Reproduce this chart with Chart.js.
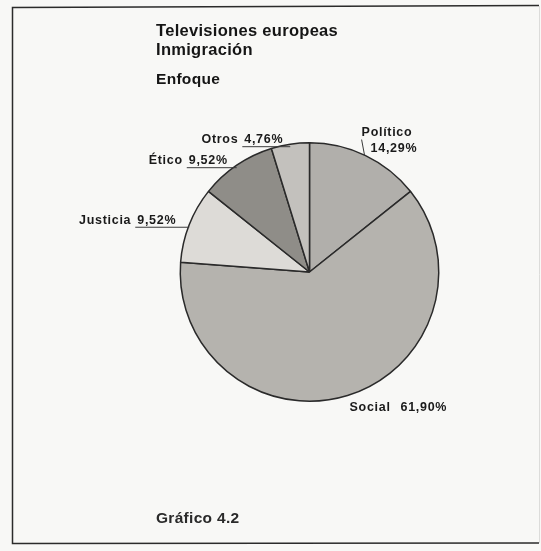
<!DOCTYPE html>
<html>
<head>
<meta charset="utf-8">
<script src="https://cdn.jsdelivr.net/npm/chart.js@4"></script>
<style>
  html, body { margin: 0; padding: 0; background: #f8f8f6; }
  #wrap { position: relative; width: 541px; height: 551px; }
</style>
</head>
<body>
<div id="wrap"><canvas id="pie"></canvas></div>
<script>
const categories = ["Político", "Social", "Justicia", "Ético", "Otros"];
const values = [14.29, 61.90, 9.52, 9.52, 4.76];
const valueLabels = ["14,29%", "61,90%", "9,52%", "9,52%", "4,76%"];
const sliceColors = ["#b1afab", "#b5b3ae", "#dddbd7", "#8f8d88", "#c3c1bd"];
const titleLines = ["Televisiones europeas", "Inmigración"];
const subtitle = "Enfoque";
const footnote = "Gráfico 4.2";

// how far the text of the left-hand labels sits from the rim
const leftGap = { 2: 13, 3: 9, 4: 7 };

const labelFont = "bold 12.5px 'Liberation Sans', Arial, sans-serif";
const inkColor = "#1a1a1a";

const pageDecor = {
    id: "pageDecor",
    beforeDraw(chart) {
        const ctx = chart.ctx;
        ctx.save();
        ctx.fillStyle = "#f8f8f6";
        ctx.fillRect(0, 0, chart.width, chart.height);
        // scanned frame
        ctx.strokeStyle = "#2b2b2b";
        ctx.lineWidth = 1.5;
        ctx.beginPath();
        ctx.moveTo(539, 5.5);
        ctx.lineTo(12.5, 7.5);
        ctx.lineTo(12.5, 543.5);
        ctx.lineTo(539, 543);
        ctx.stroke();
        ctx.strokeStyle = "#dcdcda";
        ctx.lineWidth = 1;
        ctx.beginPath();
        ctx.moveTo(539.5, 6);
        ctx.lineTo(539.5, 543);
        ctx.stroke();

        ctx.fillStyle = "#151515";
        ctx.textAlign = "left";
        ctx.textBaseline = "alphabetic";
        ctx.letterSpacing = "0.3px";
        ctx.font = "bold 16.5px 'Liberation Sans', Arial, sans-serif";
        ctx.fillText(titleLines[0], 156, 36);
        ctx.fillText(titleLines[1], 156, 55);
        ctx.font = "bold 15.5px 'Liberation Sans', Arial, sans-serif";
        ctx.fillText(subtitle, 156, 84);
        ctx.fillStyle = "#2a2a2a";
        ctx.fillText(footnote, 156, 523);
        ctx.restore();
    },
};

const sliceLabels = {
    id: "sliceLabels",
    afterDatasetsDraw(chart) {
        const ctx = chart.ctx;
        const arcs = chart.getDatasetMeta(0).data;
        ctx.save();
        ctx.font = labelFont;
        ctx.letterSpacing = "0.7px";
        ctx.fillStyle = inkColor;
        ctx.strokeStyle = "#3a3a3a";
        ctx.lineWidth = 1;
        ctx.textBaseline = "alphabetic";
        arcs.forEach((arc, i) => {
            const p = arc.getProps(["x", "y", "startAngle", "endAngle", "outerRadius"], true);
            const mid = (p.startAngle + p.endAngle) / 2;
            const ax = p.x + Math.cos(mid) * p.outerRadius;
            const ay = p.y + Math.sin(mid) * p.outerRadius;
            if (i === 0) {
                ctx.beginPath();
                ctx.moveTo(ax - 1, ay);
                ctx.lineTo(ax - 4, ay - 16);
                ctx.stroke();
                ctx.textAlign = "left";
                ctx.fillText(categories[i], ax - 4, ay - 20);
                ctx.fillText(valueLabels[i], ax + 5, ay - 4);
            } else if (i === 1) {
                ctx.textAlign = "left";
                const nameW = ctx.measureText(categories[i]).width;
                ctx.fillText(categories[i], ax + 2, ay + 15);
                ctx.fillText(valueLabels[i], ax + 2 + nameW + 10, ay + 15);
            } else {
                const gap = leftGap[i] || 8;
                const baseY = ay - 1;
                const endX = ax - gap;
                ctx.textAlign = "right";
                const valW = ctx.measureText(valueLabels[i]).width;
                ctx.fillText(valueLabels[i], endX, baseY);
                ctx.fillText(categories[i], endX - valW - 6, baseY);
                ctx.beginPath();
                ctx.moveTo(endX - valW - 2, baseY + 3.5);
                ctx.lineTo(ax, baseY + 3.5);
                ctx.stroke();
            }
        });
        ctx.restore();
    },
};

new Chart(document.getElementById("pie"), {
    type: "pie",
    plugins: [pageDecor, sliceLabels],
    data: {
        labels: categories,
        datasets: [
            {
                data: values,
                backgroundColor: sliceColors,
                borderColor: "#2a2a2a",
                borderWidth: 1.5,
            },
        ],
    },
    options: {
        responsive: true,
        maintainAspectRatio: false,
        animation: false,
        layout: {
            padding: { left: 179, right: 101, top: 142, bottom: 149 },
        },
        plugins: {
            legend: { display: false },
            tooltip: { enabled: false },
            title: { display: false },
        },
    },
});
</script>
</body>
</html>
